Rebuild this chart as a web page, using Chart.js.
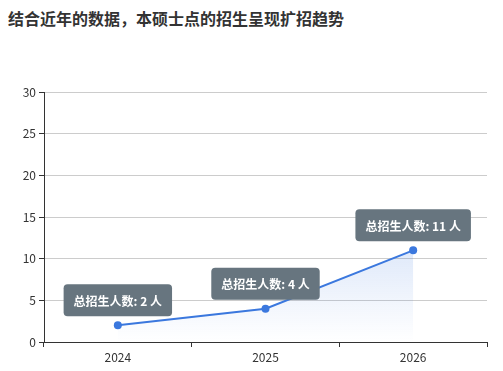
<!DOCTYPE html>
<html>
<head>
<meta charset="utf-8">
<script src="https://cdn.jsdelivr.net/npm/chart.js@4/dist/chart.umd.min.js"></script>
<style>
    html, body { margin: 0; padding: 0; background: #fff; }
    #wrap { position: relative; width: 503px; height: 371px; }
    #title {
        position: absolute; left: 8px; top: 8px;
        font: bold 16px "Noto Sans CJK SC", sans-serif; color: #333;
        line-height: 20px;
    }
    canvas { position: absolute; left: 0; top: 0; }
</style>
</head>
<body>
<div id="wrap">
    <div id="title">结合近年的数据，本硕士点的招生呈现扩招趋势</div>
    <canvas id="trendChart" width="503" height="371"></canvas>
</div>
<script>
const years = ['2024', '2025', '2026'];
const students = [2, 4, 11];
const yTicks = [0, 5, 10, 15, 20, 25, 30];
const labelPrefix = '总招生人数: ';
const labelSuffix = ' 人';

const lineColor = '#3b78de';
const fontFamily = '"Noto Sans CJK SC", "Noto Sans", sans-serif';

// boxes above each point
const valueBoxes = {
    id: 'valueBoxes',
    afterDatasetsDraw(chart) {
        const ctx = chart.ctx;
        const meta = chart.getDatasetMeta(0);
        ctx.save();
        ctx.font = 'bold 12px ' + fontFamily;
        meta.data.forEach((pt, i) => {
            const text = labelPrefix + students[i] + labelSuffix;
            const w = ctx.measureText(text).width + 20;
            const h = 32;
            const x = pt.x - w / 2;
            const y = pt.y - 9 - h;
            ctx.fillStyle = '#67757f';
            ctx.beginPath();
            ctx.roundRect(x, y, w, h, 4);
            ctx.fill();
            ctx.fillStyle = '#fff';
            ctx.textAlign = 'center';
            ctx.textBaseline = 'middle';
            ctx.fillText(text, pt.x, y + h / 2 + 1);
        });
        ctx.restore();
    }
};

document.addEventListener('DOMContentLoaded', () => {
    new Chart(document.getElementById('trendChart'), {
        type: 'line',
        data: {
            labels: years,
            datasets: [{
                data: students,
                borderColor: lineColor,
                borderWidth: 2,
                pointRadius: 4,
                pointBackgroundColor: lineColor,
                pointBorderWidth: 0,
                tension: 0,
                fill: 'origin',
                backgroundColor: (c) => {
                    const area = c.chart.chartArea;
                    if (!area) return 'rgba(59,120,222,0.1)';
                    const top = c.chart.scales.y.getPixelForValue(Math.max(...students));
                    const g = c.chart.ctx.createLinearGradient(0, top, 0, area.bottom);
                    g.addColorStop(0, 'rgba(59,120,222,0.16)');
                    g.addColorStop(1, 'rgba(59,120,222,0)');
                    return g;
                }
            }]
        },
        options: {
            responsive: false,
            animation: false,
            layout: { padding: { top: 92, right: 16, left: 0, bottom: 0 } },
            plugins: {
                legend: { display: false },
                tooltip: { enabled: false }
            },
            scales: {
                x: {
                    offset: true,
                    afterFit: (s) => { s.height = 29; },
                    border: { display: true, color: '#333', width: 1 },
                    grid: { drawOnChartArea: false, drawTicks: true, tickLength: 5, tickColor: '#333', offset: true },
                    ticks: { color: '#333', font: { family: fontFamily, size: 12 }, padding: 3 }
                },
                y: {
                    min: 0,
                    max: 30,
                    afterFit: (s) => { s.width = 44; },
                    afterBuildTicks: (s) => { s.ticks = yTicks.map(v => ({ value: v })); },
                    border: { display: true, color: '#333', width: 1 },
                    grid: { color: '#cccccc', tickLength: 5, tickColor: '#333' },
                    ticks: { color: '#333', font: { family: fontFamily, size: 12 }, padding: 3 }
                }
            }
        },
        plugins: [valueBoxes]
    });
});
</script>
</body>
</html>
